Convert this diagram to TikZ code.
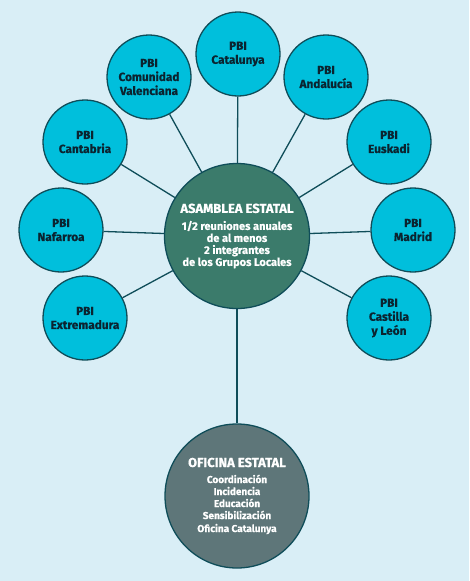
\documentclass[tikz,border=0pt]{standalone}
\usepackage{fontspec}
\setmainfont{Fira Sans}[BoldFeatures={FakeBold=0.6}]
\usetikzlibrary{positioning}
\definecolor{fondo}{HTML}{D9EEF6}
\definecolor{cian}{HTML}{00BFDC}
\definecolor{borde}{HTML}{0F4D59}
\definecolor{verde}{HTML}{3B7B6B}
\definecolor{gris}{HTML}{5E7679}
\definecolor{tinta}{HTML}{0B2430}
\tikzset{
  grupo/.style={circle, draw=borde, line width=1.3pt, fill=cian, minimum size=84pt, inner sep=0pt, align=center, text=tinta, font=\bfseries\fontsize{11.8}{14}\selectfont},
  asamblea/.style={circle, draw=borde, line width=1.3pt, fill=verde, minimum size=145pt, inner sep=0pt, align=center, text=white, font=\bfseries\fontsize{11}{12}\selectfont},
  oficina/.style={circle, draw=borde, line width=1.3pt, fill=gris, minimum size=144pt, inner sep=0pt, align=center, text=white, font=\bfseries\fontsize{10}{12}\selectfont},
  enlace/.style={draw=borde, line width=1.3pt}
}
\begin{document}
\begin{tikzpicture}[x=1pt,y=-1pt]
  \fill[fondo] (0,0) rectangle (469,581);
  \useasboundingbox (0,0) rectangle (469,581);
  % nodos centrales
  \node[asamblea] (asamblea) at (237,236) {{\fontsize{13}{15}\selectfont ASAMBLEA ESTATAL}\\[5pt]
    1/2 reuniones anuales\\de al menos\\2 integrantes\\de los Grupos Locales};
  \node[oficina] (oficina) at (237,496) {{\fontsize{13}{14}\selectfont OFICINA ESTATAL}\\[4pt]
    Coordinación\\Incidencia\\Educación\\Sensibilización\\[1pt]Oficina Catalunya};
  \draw[enlace] (asamblea) -- (oficina);
  % grupos locales
  \foreach \nombre/\pos/\texto in {
      catalunya/{(238,54)}/{PBI\\Catalunya},
      valenciana/{(149,77)}/{PBI\\Comunidad\\Valenciana},
      andalucia/{(326,77)}/{PBI\\Andalucía},
      cantabria/{(85,142)}/{PBI\\Cantabria},
      euskadi/{(389,142)}/{PBI\\Euskadi},
      nafarroa/{(61,230)}/{PBI\\Nafarroa},
      madrid/{(413,230)}/{PBI\\Madrid},
      extremadura/{(85,318)}/{PBI\\Extremadura},
      castilla/{(389,318)}/{PBI\\Castilla\\y León}}{
    \node[grupo] (\nombre) at \pos {\texto};
    \draw[enlace] (asamblea) -- (\nombre);
  }
\end{tikzpicture}
\end{document}
